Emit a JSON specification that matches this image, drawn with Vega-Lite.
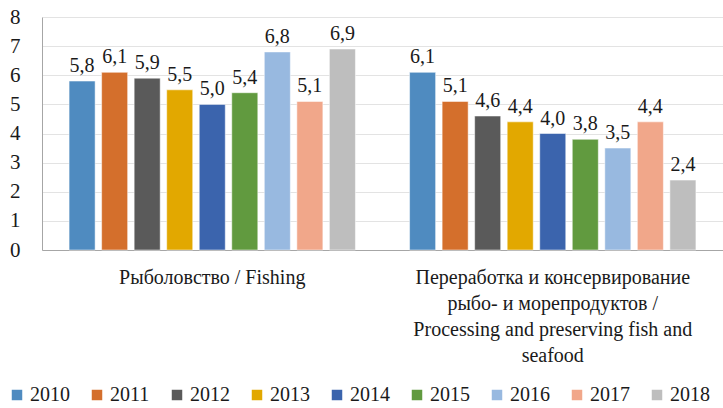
{
  "$schema": "https://vega.github.io/schema/vega-lite/v6.json",
  "autosize": {"type": "none"},
  "width": 681,
  "height": 233,
  "padding": {"left": 42, "top": 17, "right": 0, "bottom": 158},
  "background": "white",
  "config": {
    "font": "Liberation Serif",
    "view": {"stroke": null},
    "axis": {"labelFont": "Liberation Serif"},
    "legend": {"labelFont": "Liberation Serif"},
    "text": {"font": "Liberation Serif"},
    "locale": {"number": {"decimal": ",", "thousands": " ", "grouping": [3], "currency": ["", ""]}}
  },
  "data": {
    "values": [
      {"cat": "Fishing", "year": "2010", "value": 5.8},
      {"cat": "Fishing", "year": "2011", "value": 6.1},
      {"cat": "Fishing", "year": "2012", "value": 5.9},
      {"cat": "Fishing", "year": "2013", "value": 5.5},
      {"cat": "Fishing", "year": "2014", "value": 5.0},
      {"cat": "Fishing", "year": "2015", "value": 5.4},
      {"cat": "Fishing", "year": "2016", "value": 6.8},
      {"cat": "Fishing", "year": "2017", "value": 5.1},
      {"cat": "Fishing", "year": "2018", "value": 6.9},
      {"cat": "Processing", "year": "2010", "value": 6.1},
      {"cat": "Processing", "year": "2011", "value": 5.1},
      {"cat": "Processing", "year": "2012", "value": 4.6},
      {"cat": "Processing", "year": "2013", "value": 4.4},
      {"cat": "Processing", "year": "2014", "value": 4.0},
      {"cat": "Processing", "year": "2015", "value": 3.8},
      {"cat": "Processing", "year": "2016", "value": 3.5},
      {"cat": "Processing", "year": "2017", "value": 4.4},
      {"cat": "Processing", "year": "2018", "value": 2.4}
    ]
  },
  "encoding": {
    "x": {
      "field": "cat",
      "type": "nominal",
      "sort": ["Fishing", "Processing"],
      "scale": {"paddingInner": 0.14, "paddingOuter": 0.07},
      "axis": {
        "title": null,
        "labelAngle": 0,
        "ticks": false,
        "domainColor": "#A6A6A6",
        "labelFontSize": 20,
        "labelColor": "#1a1a1a",
        "labelPadding": 17,
        "labelBaseline": "top",
        "labelLineHeight": 26,
        "labelLimit": 0,
        "labelExpr": "datum.value == 'Fishing' ? 'Рыболовство / Fishing' : ['Переработка и консервирование', 'рыбо- и морепродуктов /', 'Processing and preserving fish and', 'seafood']"
      }
    },
    "xOffset": {
      "field": "year",
      "type": "nominal",
      "scale": {"paddingInner": 0.2, "paddingOuter": 0.1}
    },
    "y": {
      "field": "value",
      "type": "quantitative",
      "scale": {"domain": [0, 8], "nice": false},
      "axis": {
        "title": null,
        "values": [0, 1, 2, 3, 4, 5, 6, 7, 8],
        "labelOverlap": false,
        "ticks": false,
        "domainColor": "#A6A6A6",
        "gridColor": "#E3E3E3",
        "labelFontSize": 21,
        "labelColor": "#1a1a1a",
        "labelPadding": 22
      }
    }
  },
  "layer": [
    {
      "mark": {"type": "bar", "stroke": "white", "strokeWidth": 0.5},
      "encoding": {
        "color": {
          "field": "year",
          "type": "nominal",
          "scale": {
            "domain": ["2010", "2011", "2012", "2013", "2014", "2015", "2016", "2017", "2018"],
            "range": ["#4F8BC0", "#D46F2C", "#5A5A5A", "#E2A800", "#3B64AD", "#619A3F", "#98B9E0", "#F1A78A", "#BEBEBE"]
          },
          "legend": {
            "title": null,
            "orient": "none",
            "direction": "horizontal",
            "columns": 9,
            "padding": 0,
            "legendX": -35,
            "legendY": 368,
            "symbolType": "square",
            "symbolSize": 110,
            "symbolStrokeWidth": 0,
            "symbolOffset": 0,
            "labelFontSize": 20,
            "labelColor": "#1a1a1a",
            "labelOffset": 3,
            "columnPadding": 17
          }
        }
      }
    },
    {
      "mark": {"type": "text", "baseline": "bottom", "dy": -5, "fontSize": 20, "color": "#1a1a1a"},
      "encoding": {
        "text": {"field": "value", "type": "quantitative", "format": ".1f"}
      }
    }
  ]
}
